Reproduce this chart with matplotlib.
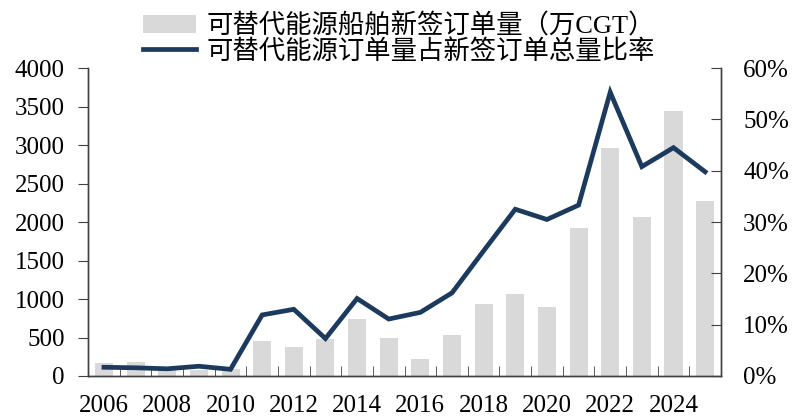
import matplotlib
matplotlib.use("Agg")
import matplotlib.pyplot as plt
from matplotlib.ticker import FuncFormatter, FixedLocator

plt.rcParams['font.family'] = ['Liberation Serif', 'Noto Sans CJK SC']

# 数据
years = list(range(2006, 2026))
orders = [165, 186, 100, 80, 87, 458, 381, 476, 736, 493, 216,
          528, 931, 1061, 896, 1918, 2957, 2061, 3442, 2273]          # 万CGT
share = [1.7, 1.6, 1.4, 1.9, 1.3, 11.9, 13.0, 7.3, 15.1, 11.1, 12.4,
         16.2, 24.4, 32.5, 30.5, 33.3, 55.3, 40.8, 44.5, 39.8]       # %
bar_label = "可替代能源船舶新签订单量（万CGT）"
line_label = "可替代能源订单量占新签订单总量比率"

bar_color = "#D9D9D9"
line_color = "#1B3A5E"

fig = plt.figure(figsize=(7.94, 4.18), dpi=100)
ax = fig.add_axes([0.111, 0.1005, 0.797, 0.7365])
ax2 = ax.twinx()

x = list(range(len(years)))
bars = ax.bar(x, orders, width=0.57, color=bar_color, zorder=1)
line, = ax2.plot(x, share, color=line_color, lw=3.4, solid_joinstyle='miter', zorder=3)

ax.set_xlim(-0.5, len(years) - 0.5)
ax.set_ylim(0, 4000)
ax2.set_ylim(0, 60)
ax.set_yticks(range(0, 4001, 500))
ax2.set_yticks(range(0, 61, 10))
ax2.yaxis.set_major_formatter(FuncFormatter(lambda v, p: f"{int(v)}%"))

# 横轴: 年份标签隔年显示, 刻度线在类别之间
ax.set_xticks(x[::2])
ax.set_xticklabels([str(y) for y in years[::2]])
ax.xaxis.set_minor_locator(FixedLocator([i + 0.5 for i in x[:-1]]))
ax.tick_params(axis='x', which='major', length=0, pad=14, labelsize=18)
ax.tick_params(axis='x', which='minor', direction='in', length=7, color='#404040')
ax.tick_params(axis='y', direction='out', length=7, pad=10, labelsize=18, color='#404040')
ax2.tick_params(axis='y', direction='in', length=7, pad=16, labelsize=18, color='#404040')

for a in (ax, ax2):
    a.spines['top'].set_visible(False)
    for s in ('left', 'right', 'bottom'):
        a.spines[s].set_color('#404040')
        a.spines[s].set_linewidth(1.0)

ax.set_zorder(ax2.get_zorder() - 1)
ax2.patch.set_visible(False)

fig.legend([bars, line], [bar_label, line_label], loc='upper left',
           bbox_to_anchor=(0.157, 1.013), frameon=False, fontsize=19,
           handlelength=2.0, handletextpad=0.4, labelspacing=0.02,
           borderpad=0.2)

fig.savefig("out.png", dpi=100)
